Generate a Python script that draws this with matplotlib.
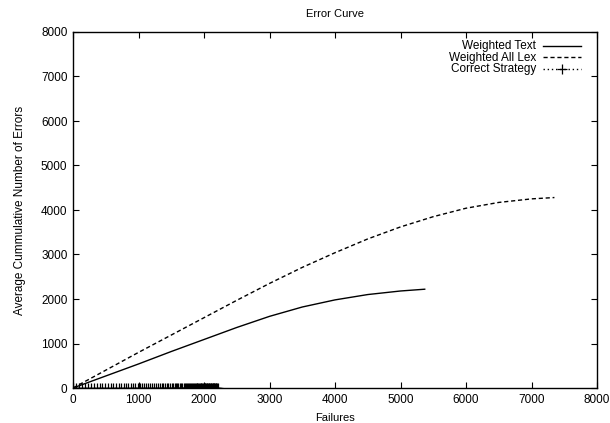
import matplotlib
matplotlib.use("Agg")
import matplotlib.pyplot as plt

plt.rcParams['font.family'] = ['Liberation Sans', 'DejaVu Sans']

text_x = [0, 500, 1000, 1500, 2000, 2500, 3000, 3500, 4000, 4500, 5000, 5370]
text_y = [0, 270, 540, 820, 1090, 1360, 1610, 1820, 1980, 2100, 2180, 2220]

lex_x = [0, 500, 1000, 1500, 2000, 2500, 3000, 3500, 4000, 4500, 5000, 5500, 6000, 6500, 7000, 7350]
lex_y = [0, 400, 800, 1190, 1580, 1970, 2350, 2710, 3040, 3350, 3620, 3850, 4040, 4170, 4250, 4280]

correct_x = [0, 45, 90, 135, 180, 225, 270, 315, 360, 405, 450, 495, 535, 575, 615, 655,
             695, 735, 775, 810, 845, 880, 915, 950, 985, 1020, 1055, 1090, 1120, 1150,
             1180, 1210, 1240, 1270, 1300, 1330, 1355, 1380, 1405, 1430, 1455, 1480, 1505,
             1530, 1550, 1570, 1590, 1610, 1630, 1650, 1670, 1690, 1710, 1725, 1740, 1755,
             1770, 1785, 1800, 1815, 1830, 1845, 1860, 1875, 1888, 1900, 1912, 1924, 1936,
             1948, 1960, 1972, 1984, 1996, 2008, 2020, 2030, 2040, 2050, 2060, 2070, 2080,
             2090, 2100, 2110, 2120, 2130, 2140, 2150, 2160, 2170, 2180, 2190, 2200, 2210]
correct_y = [0] * len(correct_x)

ticks = [0, 1000, 2000, 3000, 4000, 5000, 6000, 7000, 8000]

fig = plt.figure(figsize=(6.10, 4.23), dpi=100)
ax = fig.add_axes([73/610, 1-388/423, (597-73)/610, (388-32)/423])

ax.plot(text_x, text_y, color='black', lw=1.0, label='Weighted Text')
ax.plot(lex_x, lex_y, color='black', lw=1.0, linestyle=(0, (3, 2)), label='Weighted All Lex')
ax.plot(correct_x, correct_y, color='black', lw=1.0, linestyle=(0, (1, 2)),
        marker='+', markersize=7, markeredgewidth=0.9, label='Correct Strategy')

ax.set_xlim(0, 8000)
ax.set_ylim(0, 8000)
ax.set_xticks(ticks)
ax.set_yticks(ticks)
ax.tick_params(direction='in', top=True, right=True, length=4, width=0.8, labelsize=8.5, pad=4)
for s in ax.spines.values():
    s.set_linewidth(1.0)

ax.set_title('Error Curve', fontsize=8, pad=11)
ax.set_xlabel('Failures', fontsize=8, labelpad=5)
ax.set_ylabel('Average Cummulative Number of Errors', fontsize=8.5, labelpad=11)

leg = ax.legend(loc='upper right', frameon=False, markerfirst=False, fontsize=8.5,
                handlelength=3.2, handleheight=0.3, handletextpad=0.6, labelspacing=-0.05,
                numpoints=1, borderaxespad=0.3, bbox_to_anchor=(0.985, 1.0))
for t in leg.get_texts():
    t.set_ha('right')

fig.savefig('out.png', dpi=100)
